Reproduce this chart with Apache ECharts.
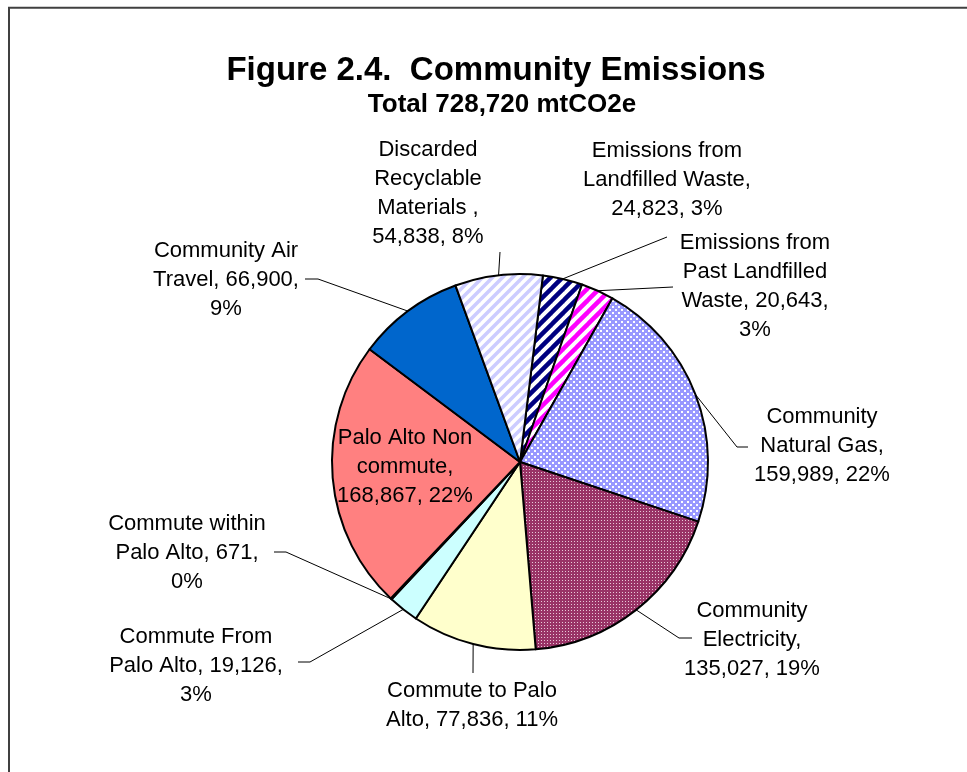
<!DOCTYPE html>
<html>
<head>
<meta charset="utf-8">
<script src="https://cdn.jsdelivr.net/npm/echarts@6/dist/echarts.min.js"></script>
<style>
  html, body { margin: 0; padding: 0; background: #ffffff; }
  #chart { width: 967px; height: 772px; }
</style>
</head>
<body>
<div id="chart"></div>
<script>
// Community emissions by source (mtCO2e)
const categories = [
  'Emissions from Landfilled Waste',
  'Emissions from Past Landfilled Waste',
  'Community Natural Gas',
  'Community Electricity',
  'Commute to Palo Alto',
  'Commute From Palo Alto',
  'Commute within Palo Alto',
  'Palo Alto Non commute',
  'Community Air Travel',
  'Discarded Recyclable Materials '
];
const emissions = [24823, 20643, 159989, 135027, 77836, 19126, 671, 168867, 66900, 54838];
const shareLabels = ['3%', '3%', '22%', '19%', '11%', '3%', '0%', '22%', '9%', '8%'];
const titleText = 'Figure 2.4.  Community Emissions';
const subtitleText = 'Total 728,720 mtCO2e';

const LABEL_FONT = '22px "Liberation Sans", Arial, sans-serif';

// ---- fill patterns ----
function makeTile(size, draw) {
  const c = document.createElement('canvas');
  c.width = size; c.height = size;
  const g = c.getContext('2d');
  draw(g, size);
  return { image: c, repeat: 'repeat' };
}
function diagonalStripes(color, size, width) {
  return makeTile(size, (g, s) => {
    g.fillStyle = '#ffffff';
    g.fillRect(0, 0, s, s);
    g.strokeStyle = color;
    g.lineWidth = width;
    g.lineCap = 'square';
    for (let k = -1; k <= 1; k++) {
      g.beginPath();
      g.moveTo(k * s, s);
      g.lineTo(k * s + s, 0);
      g.stroke();
    }
  });
}
function checker(color, size) {
  return makeTile(size, (g, s) => {
    g.fillStyle = color;
    g.fillRect(0, 0, s, s);
    g.fillStyle = '#ffffff';
    const h = s / 2;
    g.fillRect(0, 0, h - 1, h - 1);
    g.fillRect(h, h, h - 1, h - 1);
  });
}
function dotted(color, dot, size) {
  return makeTile(size, (g, s) => {
    g.fillStyle = color;
    g.fillRect(0, 0, s, s);
    g.fillStyle = dot;
    g.fillRect(1, 1, 1, 1);
  });
}

const sliceFills = [
  diagonalStripes('#000080', 12, 4.5),
  diagonalStripes('#ff00ff', 12, 4.5),
  checker('#9999ff', 6),
  dotted('#993366', '#e8c8d8', 3),
  '#ffffcc',
  '#ccffff',
  '#99ccff',
  '#ff8080',
  '#0066cc',
  diagonalStripes('#ccccff', 10, 3.5)
];

// ---- label placement (block centre, wrap width, leader line route) ----
const labelPlacement = [
  { cx: 667, cy: 180, wrap: 200, route: [[667, 237]] },
  { cx: 755, cy: 286, wrap: 165, route: [[673, 287]] },
  { cx: 822, cy: 446, wrap: 160, route: [[737, 447], [748, 447]] },
  { cx: 752, cy: 640, wrap: 160, route: [[679, 638], [692, 638]] },
  { cx: 472, cy: 705, wrap: 190, route: [[473, 673]] },
  { cx: 196, cy: 666, wrap: 185, route: [[310, 662], [298, 662]] },
  { cx: 187, cy: 553, wrap: 165, route: [[286, 552], [274, 552]] },
  { cx: 405, cy: 467, wrap: 150, route: null },
  { cx: 226, cy: 280, wrap: 165, route: [[318, 279], [305, 279]] },
  { cx: 428, cy: 193, wrap: 130, route: [[500, 252]] }
];

const measureCtx = document.createElement('canvas').getContext('2d');
measureCtx.font = LABEL_FONT;
function wrapText(text, maxWidth) {
  const words = text.split(' ');
  const lines = [];
  let cur = '';
  words.forEach(w => {
    const trial = cur ? cur + ' ' + w : w;
    if (cur && measureCtx.measureText(trial).width > maxWidth) {
      lines.push(cur);
      cur = w;
    } else {
      cur = trial;
    }
  });
  if (cur) lines.push(cur);
  return lines.join('\n');
}
function labelFor(i) {
  const txt = categories[i] + ', ' + emissions[i].toLocaleString('en-US') + ', ' + shareLabels[i];
  return wrapText(txt, labelPlacement[i].wrap);
}

const pieData = categories.map((name, i) => ({
  name: name,
  value: emissions[i],
  itemStyle: { color: sliceFills[i] },
  labelLine: { show: labelPlacement[i].route !== null }
}));

const chart = echarts.init(document.getElementById('chart'), null, { renderer: 'canvas' });
chart.setOption({
  backgroundColor: '#ffffff',
  animation: false,
  graphic: [
    {
      type: 'rect',
      shape: { x: 9, y: 7.7, width: 1000, height: 1000 },
      style: { fill: 'none', stroke: '#404040', lineWidth: 2 },
      silent: true
    },
    {
      type: 'text',
      x: 496, y: 71,
      style: {
        text: titleText,
        font: 'bold 33px "Liberation Sans", Arial, sans-serif',
        fill: '#000000',
        textAlign: 'center',
        textVerticalAlign: 'middle'
      }
    },
    {
      type: 'text',
      x: 502, y: 105,
      style: {
        text: subtitleText,
        font: 'bold 26px "Liberation Sans", Arial, sans-serif',
        fill: '#000000',
        textAlign: 'center',
        textVerticalAlign: 'middle'
      }
    }
  ],
  series: [{
    type: 'pie',
    center: [520, 462],
    radius: 188,
    startAngle: 83,
    clockwise: true,
    avoidLabelOverlap: false,
    minShowLabelAngle: 0,
    itemStyle: { borderColor: '#000000', borderWidth: 2 },
    emphasis: { disabled: true },
    label: {
      show: true,
      position: 'outside',
      formatter: p => labelFor(p.dataIndex),
      fontFamily: '"Liberation Sans", Arial, sans-serif',
      fontSize: 22,
      lineHeight: 29,
      color: '#000000',
      align: 'center'
    },
    labelLine: {
      show: true,
      length: 20,
      length2: 10,
      lineStyle: { color: '#000000', width: 1 }
    },
    labelLayout: function (params) {
      const pl = labelPlacement[params.dataIndex];
      const out = { x: pl.cx, y: pl.cy, align: 'center', verticalAlign: 'middle' };
      if (pl.route && params.labelLinePoints) {
        out.labelLinePoints = [params.labelLinePoints[0]].concat(pl.route);
      }
      return out;
    },
    data: pieData
  }]
});
</script>
</body>
</html>
